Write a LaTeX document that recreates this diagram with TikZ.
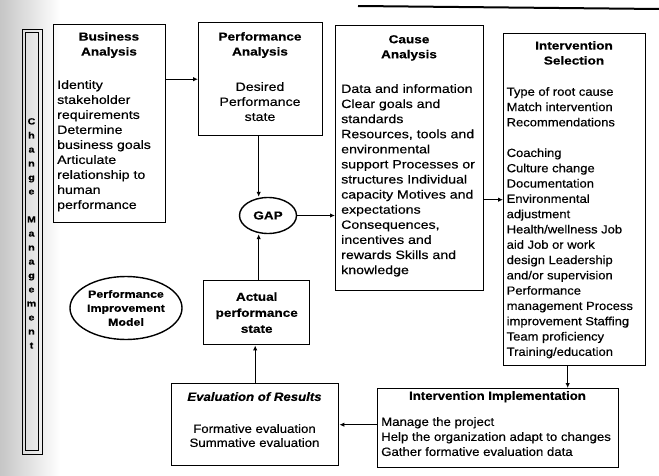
\documentclass[tikz,border=0pt]{standalone}
\usepackage{fontspec}
\setmainfont{Liberation Sans}[FakeStretch=1.18,FakeBold=0.4]
\newfontfamily\tightsans{Liberation Sans}[FakeStretch=1.1,FakeBold=0.4]
\usetikzlibrary{arrows.meta,shapes.geometric}

\begin{document}
\begin{tikzpicture}[x=1pt,y=-1pt,
  box/.style={draw,line width=1.4pt,inner sep=0pt,anchor=north west},
  oval/.style={draw,ellipse,line width=1.4pt,inner sep=0pt,align=center,
    font=\bfseries\fontsize{10.5}{14}\selectfont},
  head/.style={inner sep=0pt,align=center,anchor=north,
    font=\bfseries\fontsize{11.5}{15}\selectfont},
  body/.style={inner sep=0pt,align=left,anchor=north west,
    font=\fontsize{12}{15}\selectfont},
  cbody/.style={inner sep=0pt,align=center,anchor=north,
    font=\fontsize{12}{15}\selectfont},
  arr/.style={line width=1.1pt,-{Latex[length=5pt,width=4.5pt]}}]

\useasboundingbox (0,0) rectangle (659,476);
\fill[white] (0,0) rectangle (659,476);

% shaded left margin and page edge
\shade[left color=gray!45,right color=white] (0,0) rectangle (60,476);
\draw[line width=2pt] (358,6) -- (659,9);

% Change Management side strip
\draw[line width=0.8pt] (22,29) rectangle (42,454);
\draw[line width=0.8pt] (25.5,32.5) rectangle (38.5,450.5);
\node[inner sep=0pt,anchor=north,align=center,
  font=\bfseries\fontsize{9}{14}\selectfont] (cm) at (31.5,118)
  {C\\h\\a\\n\\g\\e\\[14pt]M\\a\\n\\a\\g\\e\\m\\e\\n\\t};

% Business Analysis
\node[box,minimum width=112pt,minimum height=198pt] (ba) at (53,24) {};
\node[head] (ba-t) at (109,32) {Business\\Analysis};
\node[body] (ba-b) at (57,80) {Identity\\stakeholder\\requirements\\Determine\\business goals\\Articulate\\relationship to\\human\\performance};

% Performance Analysis
\node[box,minimum width=124pt,minimum height=113pt] (pa) at (198,22) {};
\node[head] (pa-t) at (260,32) {Performance\\Analysis};
\node[cbody] (pa-b) at (260,82) {Desired\\Performance\\state};

% Cause Analysis
\node[box,minimum width=148pt,minimum height=265pt] (ca) at (335,25) {};
\node[head] (ca-t) at (409,35) {Cause\\Analysis};
\node[body,font=\fontsize{12}{15.1}\selectfont] (ca-b) at (341,84)
  {Data and information\\Clear goals and\\standards\\Resources, tools and\\environmental\\support Processes or\\structures Individual\\capacity Motives and\\expectations\\Consequences,\\incentives and\\rewards Skills and\\knowledge};

% Intervention Selection
\node[box,minimum width=142pt,minimum height=332pt] (is) at (503,33) {};
\node[head] (is-t) at (574,41) {Intervention\\Selection};
\node[body,font=\tightsans\fontsize{11.8}{15.3}\selectfont] (is-b) at (506.5,87)
  {Type of root cause\\Match intervention\\Recommendations\\[15.3pt]Coaching\\Culture change\\Documentation\\Environmental\\adjustment\\Health/wellness Job\\aid Job or work\\design Leadership\\and/or supervision\\Performance\\management Process\\improvement Staffing\\Team proficiency\\Training/education};

% GAP and model label
\node[oval,minimum width=57pt,minimum height=36pt,font=\bfseries\fontsize{11.5}{14}\selectfont] (gap) at (268,215.5) {GAP};
\node[oval,minimum width=112pt,minimum height=63pt] (pim) at (126,308) {Performance\\Improvement\\Model};

% Actual performance state
\node[box,minimum width=106pt,minimum height=64pt] (as) at (203,280) {};
\node[inner sep=0pt,align=center,font=\bfseries\fontsize{11.5}{16}\selectfont] (as-t) at (as.center) {Actual\\performance\\state};

% Evaluation of Results
\node[box,minimum width=167pt,minimum height=82pt] (er) at (171,383) {};
\node[head,font=\tightsans\bfseries\itshape\fontsize{12}{15}\selectfont] (er-t) at (254.5,392) {Evaluation of Results};
\node[cbody,font=\tightsans\fontsize{12}{14}\selectfont] (er-b) at (254.5,424) {Formative evaluation\\Summative evaluation};

% Intervention Implementation
\node[box,minimum width=241pt,minimum height=79pt] (ii) at (377,388) {};
\node[head,font=\tightsans\bfseries\fontsize{12}{15}\selectfont] (ii-t) at (497.5,391) {Intervention Implementation};
\node[body,font=\tightsans\fontsize{12}{15}\selectfont] (ii-b) at (381,417) {Manage the project\\Help the organization adapt to changes\\Gather formative evaluation data};

% connectors
\draw[arr] (ba.east |- pa.west) -- (pa.west);
\draw[arr] ([xshift=-2pt]pa.south) -- ([xshift=-2pt]pa.south |- gap.north);
\draw[arr] (gap.east) -- (gap.east -| ca.west);
\draw[arr] (is.west -| ca.east) -- (is.west);
\draw[arr] ([xshift=-7pt]is.south) -- ([xshift=-7pt]is.south |- ii.north);
\draw[arr] (ii.west |- er.east) -- (er.east);
\draw[arr] (er.north) -- (er.north |- as.south);
\draw[arr] ([xshift=2pt]as.north) -- ([xshift=2pt]as.north |- gap.south);
\end{tikzpicture}
\end{document}
